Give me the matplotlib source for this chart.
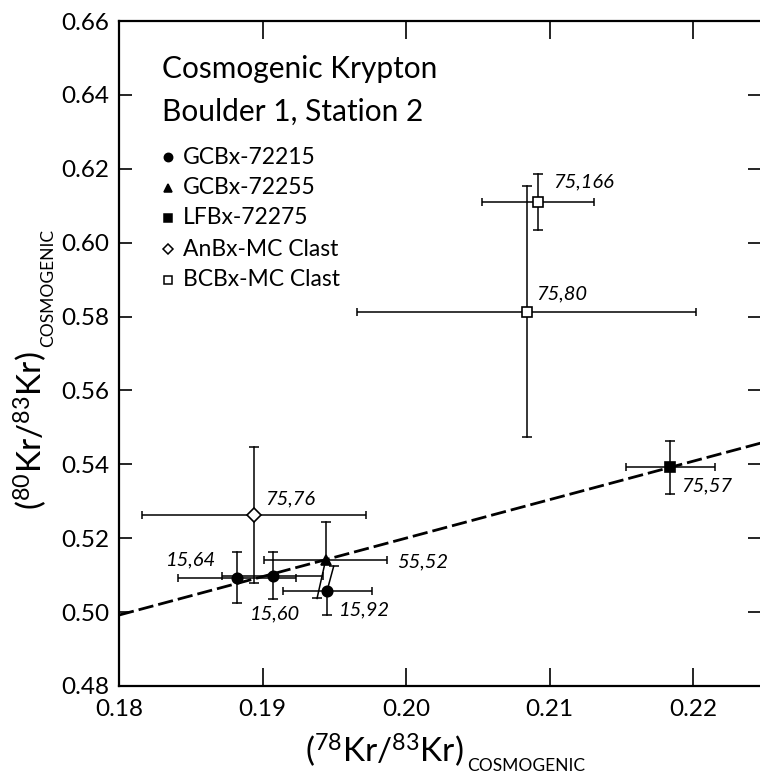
import matplotlib
matplotlib.use("Agg")
import matplotlib.pyplot as plt
from matplotlib.ticker import FormatStrFormatter

FONT = "Lato"
plt.rcParams["font.family"] = [FONT, "DejaVu Sans"]
plt.rcParams["mathtext.fontset"] = "custom"
plt.rcParams["mathtext.rm"] = FONT
plt.rcParams["mathtext.it"] = FONT + ":italic"
plt.rcParams["mathtext.bf"] = FONT + ":bold"

# ---- data: cosmogenic Kr isotope ratios (78Kr/83Kr, 80Kr/83Kr) ----
sample_names = ["GCBx-72215", "GCBx-72255", "LFBx-72275", "AnBx-MC Clast", "BCBx-MC Clast"]
sample_markers = ["o", "^", "s", "D", "s"]
sample_filled = [True, True, True, False, False]

point_labels = ["15,64", "15,60", "15,92", "55,52", "75,57", "75,76", "75,166", "75,80"]
point_sample = [0, 0, 0, 1, 2, 3, 4, 4]
kr78_83 = [0.1882, 0.1907, 0.1945, 0.1944, 0.2184, 0.1894, 0.2092, 0.2084]
kr78_83_err = [0.0041, 0.0035, 0.0031, 0.0043, 0.0031, 0.0078, 0.0039, 0.0118]
kr80_83 = [0.5093, 0.5099, 0.5058, 0.5141, 0.5392, 0.5263, 0.6111, 0.5813]
kr80_83_err = [0.0069, 0.0063, 0.0066, 0.0104, 0.0071, 0.0185, 0.0076, 0.0340]

# correlation line through the data (intercept at 78/83 = 0.18, slope)
fit_x = [0.18, 0.225]
fit_intercept = 0.4992
fit_slope = 1.041

x_ticks = [0.18, 0.19, 0.20, 0.21, 0.22]
y_ticks = [0.48, 0.50, 0.52, 0.54, 0.56, 0.58, 0.60, 0.62, 0.64, 0.66]

# ---- layout ----
W, H = 760, 775
# label offsets (pixels) and horizontal alignment for each point label
label_offsets = [(-21, 18, "right"), (-23, -38, "left"), (12, -19, "left"), (71, -2, "left"),
                 (11, -19, "left"), (11, 16, "left"), (15, 20, "left"), (10, 18, "left")]
# sideways shift of the lower/upper y error bar where bars would overlap
slant_lower = [0, 0, 0, -0.0006, 0, 0, 0, 0]
slant_upper = [0, 0, 0.00046, 0, 0, 0, 0, 0]

fig = plt.figure(figsize=(W / 100, H / 100), dpi=100)
ax = fig.add_axes([119 / W, 89 / H, 641 / W, 665 / H])
ax.set_xlim(0.18, 0.18 + 641 / 14350)
ax.set_ylim(0.48, 0.66)

ax.set_xticks(x_ticks)
ax.set_yticks(y_ticks)
ax.xaxis.set_major_formatter(FormatStrFormatter("%.2f"))
ax.yaxis.set_major_formatter(FormatStrFormatter("%.2f"))
ax.tick_params(axis="x", direction="in", length=13, width=1.2, pad=9, labelsize=17.5,
               top=True, bottom=True)
ax.tick_params(axis="y", direction="in", length=9, width=1.2, pad=7, labelsize=17.5,
               left=True, right=True)
for side in ["left", "bottom", "top"]:
    ax.spines[side].set_linewidth(1.6)
ax.spines["right"].set_visible(False)

# correlation line
fit_y = [fit_intercept + fit_slope * (xv - fit_x[0]) for xv in fit_x]
ax.plot(fit_x, fit_y, color="black", lw=2.0, dashes=(5.5, 1.8), zorder=2)

# error bars
ax.errorbar(kr78_83, kr80_83, xerr=kr78_83_err, fmt="none", ecolor="black",
            elinewidth=1.1, capsize=3.0, capthick=1.1, zorder=3)
for i in range(len(kr78_83)):
    x, y = kr78_83[i], kr80_83[i]
    e = kr80_83_err[i]
    for sign, dx in ((1, slant_upper[i]), (-1, slant_lower[i])):
        ax.plot([x, x + dx], [y, y + sign * e], color="black", lw=1.1, zorder=3)
        ax.plot([x + dx], [y + sign * e], marker="_", ms=7, mew=1.1, color="black", zorder=3)

# data points
for i in range(len(kr78_83)):
    s = point_sample[i]
    filled = sample_filled[s]
    ms = 7.5 if sample_markers[s] != "D" else 7
    ax.plot(kr78_83[i], kr80_83[i], marker=sample_markers[s], ms=ms,
            mfc="black" if filled else "white", mec="black", mew=1.2,
            linestyle="none", zorder=5)
    dx, dy, ha = label_offsets[i]
    ax.annotate(point_labels[i], (kr78_83[i], kr80_83[i]), xytext=(dx, dy),
                textcoords="offset pixels", ha=ha, va="center", fontsize=14.5,
                style="italic", zorder=6)

# title and key
fig.text(162 / W, 1 - 69 / H, "Cosmogenic Krypton", fontsize=21.5, va="center", ha="left")
fig.text(162 / W, 1 - 112 / H, "Boulder 1, Station 2", fontsize=21.5, va="center", ha="left")
key_y = [157, 188, 218, 249, 280]
for s, name in enumerate(sample_names):
    ax.plot([168 / W], [1 - key_y[s] / H], transform=fig.transFigure,
            marker=sample_markers[s], ms=6 if sample_markers[s] != "D" else 5.5,
            mfc="black" if sample_filled[s] else "white", mec="black", mew=1.1,
            linestyle="none", clip_on=False)
    fig.text(183 / W, 1 - key_y[s] / H, name, fontsize=16.5, va="center", ha="left")


# axis titles: ratio in large type followed by a small lowered "COSMOGENIC"
def ratio_label(num, px, py, vertical):
    renderer = fig.canvas.get_renderer()
    rot = 90 if vertical else 0
    main = fig.text(px / W, 1 - py / H,
                    r"$(^{%s}\mathrm{Kr}/^{83}\mathrm{Kr})$" % num,
                    fontsize=24, ha="left", va="baseline", rotation=rot,
                    rotation_mode="anchor")
    bb = main.get_window_extent(renderer)
    if vertical:
        sx, sy = px + 11, H - (bb.y1 + 4)
    else:
        sx, sy = bb.x1 + 4, py + 9
    fig.text(sx / W, 1 - sy / H, "COSMOGENIC", fontsize=12.5, ha="left",
             va="baseline", rotation=rot, rotation_mode="anchor")


ratio_label("78", 305, 762, False)
ratio_label("80", 42, 510, True)

fig.savefig("out.png", dpi=100)
